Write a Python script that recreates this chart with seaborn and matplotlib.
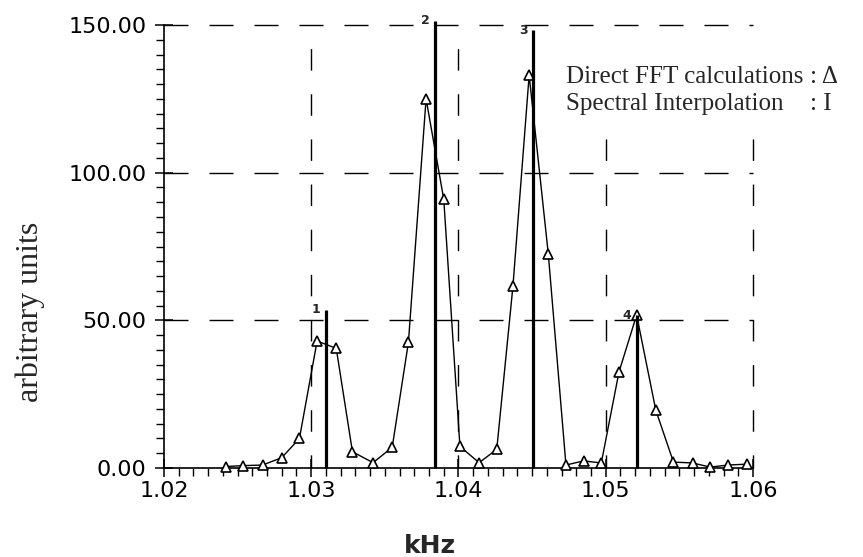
import matplotlib
matplotlib.use("Agg")
import matplotlib.pyplot as plt
import matplotlib.ticker as mticker
from matplotlib.patches import Rectangle
import seaborn as sns
import pandas as pd

# FFT bins (kHz) and amplitudes
freq_khz = [1.0242, 1.0254, 1.0267, 1.0280, 1.0292, 1.0304, 1.0317, 1.0328,
            1.0342, 1.0355, 1.0366, 1.0378, 1.0390, 1.0401, 1.0414, 1.0426,
            1.0437, 1.0448, 1.0461, 1.0473, 1.0485, 1.0497, 1.0509, 1.0521,
            1.0534, 1.0546, 1.0559, 1.0571, 1.0583, 1.0596]
fft_amp = [0.5, 0.8, 1.0, 3.5, 10.0, 43.0, 40.5, 5.5,
           1.8, 7.0, 42.5, 125.0, 91.0, 7.3, 1.8, 6.3,
           61.6, 133.0, 72.5, 1.0, 2.4, 1.7, 32.5, 51.8,
           19.6, 2.0, 1.7, 0.3, 1.0, 1.3]

# spectral interpolation peaks
peak_freq = [1.0310, 1.0384, 1.04506, 1.05212]
peak_amp = [53.5, 151.5, 148.3, 51.8]
peak_names = ["1", "2", "3", "4"]

grid_y = [50, 100, 150]
grid_x = [1.03, 1.04, 1.05, 1.06]

df = pd.DataFrame({"kHz": freq_khz, "amp": fft_amp})

sns.set_style("ticks")
plt.rcParams['font.family'] = ['DejaVu Sans']

fig = plt.figure(figsize=(8.63, 5.57), dpi=100)
ax = fig.add_axes([0.1900, 0.1598, 0.6825, 0.7953])

# dashed grid
for gy in grid_y:
    ax.plot([1.02, 1.06], [gy, gy], color="black", lw=1.0,
            linestyle=(0, (17.3, 15.1)), zorder=1, clip_on=False)
for gx in grid_x:
    ax.plot([gx, gx], [150, 0], color="black", lw=1.0,
            linestyle=(15.5, (15.5, 17.0)), zorder=1, clip_on=False)

# direct FFT values
sns.lineplot(data=df, x="kHz", y="amp", ax=ax, color="black", lw=1.0,
             marker="^", markersize=7, markerfacecolor="white",
             markeredgecolor="black", markeredgewidth=1.2, zorder=3,
             clip_on=False)

# interpolated peaks
ax.vlines(peak_freq, 0, peak_amp, color="black", lw=2.3, zorder=4, clip_on=False)
for px, py, name in zip(peak_freq, peak_amp, peak_names):
    ax.annotate(name, (px, py), xytext=(-4, 0), textcoords="offset points",
                ha="right", va="center", fontsize=9, fontweight="bold",
                annotation_clip=False)

ax.set_xlim(1.02, 1.06)
ax.set_ylim(0, 150)
ax.xaxis.set_major_locator(mticker.MultipleLocator(0.01))
ax.xaxis.set_minor_locator(mticker.MultipleLocator(0.001))
ax.yaxis.set_major_locator(mticker.MultipleLocator(50))
ax.yaxis.set_minor_locator(mticker.MultipleLocator(5))
ax.xaxis.set_major_formatter(mticker.FormatStrFormatter("%.2f"))
ax.yaxis.set_major_formatter(mticker.FormatStrFormatter("%.2f"))

sns.despine(ax=ax)
for s in ["left", "bottom"]:
    ax.spines[s].set_linewidth(1.2)
    ax.spines[s].set_color("black")
ax.tick_params(which="both", bottom=True, left=True)
ax.tick_params(which="major", direction="inout", length=13, width=1.1,
               labelsize=16, colors="black")
ax.tick_params(axis="y", which="major", pad=6)
ax.tick_params(axis="x", which="major", pad=3)
ax.tick_params(which="minor", direction="out", length=6, width=1.0,
               colors="black")
ax.set_xlabel("")
ax.set_ylabel("")

fig.text(430 / 863, 1 - 546 / 557, "kHz", fontsize=18, fontweight="bold",
         ha="center", va="center")
fig.text(30 / 863, 1 - 312 / 557, "arbitrary units", rotation=90, fontsize=23,
         family="Liberation Serif", ha="center", va="center")

# white block behind the legend text (hides the grid there)
fig.patches.append(Rectangle((560 / 863, 1 - 133 / 557), 1 - 560 / 863, 85 / 557,
                             transform=fig.transFigure, facecolor="white",
                             edgecolor="none", zorder=1))

# legend as text lines
t1 = fig.text(566 / 863, 1 - 83 / 557, "Direct FFT calculations ",
              family="Liberation Serif", fontsize=18, va="baseline")
fig.text(566 / 863, 1 - 110 / 557, "Spectral Interpolation",
         family="Liberation Serif", fontsize=18, va="baseline")
fig.canvas.draw()
bb = t1.get_window_extent().transformed(fig.transFigure.inverted())
fig.text(bb.x1, 1 - 83 / 557, ": \u0394", family="Liberation Serif",
         fontsize=18, va="baseline")
fig.text(bb.x1, 1 - 110 / 557, ": I", family="Liberation Serif",
         fontsize=18, va="baseline")

fig.savefig("out.png", dpi=100)
